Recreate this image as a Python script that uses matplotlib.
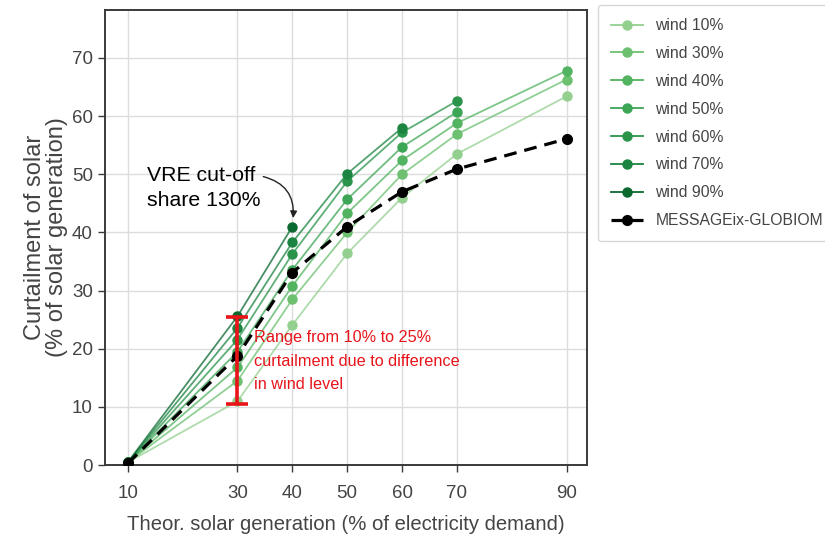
import numpy as np
import matplotlib
matplotlib.use("Agg")
from matplotlib import pyplot as plt

plt.rcParams['font.family'] = ['Liberation Sans', 'DejaVu Sans']

# solar generation levels (% of demand)
solar = [10, 30, 40, 50, 60, 70, 90]

# curtailment per wind level (series stop at the 130% VRE cut-off)
wind_labels = ['wind 10%', 'wind 30%', 'wind 40%', 'wind 50%', 'wind 60%', 'wind 70%', 'wind 90%']
wind10 = [0.5, 11.0, 24.1, 36.4, 46.0, 53.5, 63.4]
wind30 = [0.5, 14.5, 28.5, 40.0, 50.0, 56.9, 66.3]
wind40 = [0.5, 16.8, 30.8, 43.3, 52.4, 58.8, 67.8]
wind50 = [0.5, 19.5, 33.6, 45.7, 54.7, 60.7]
wind60 = [0.5, 21.6, 36.3, 48.8, 57.2, 62.6]
wind70 = [0.5, 23.6, 38.3, 50.1, 58.0]
wind90 = [0.5, 25.6, 41.0]
wind_series = [wind10, wind30, wind40, wind50, wind60, wind70, wind90]

# MESSAGEix-GLOBIOM reference
message = [0.3, 18.8, 33.1, 41.0, 47.0, 50.9, 56.1]

colors = ['#93d08f', '#6cc070', '#52b360', '#3da556', '#2a944b', '#1b8440', '#0b6930']

fig = plt.figure(figsize=(8.25, 5.39), dpi=100)
ax = fig.add_axes([0.127, 0.137, 0.585, 0.845])

for lab, vals, c in zip(wind_labels, wind_series, colors):
    xs = solar[:len(vals)]
    ax.plot(xs, vals, color=c, lw=1.3, alpha=0.75)
    ax.plot(xs, vals, color=c, lw=0, marker='o', ms=6.5, zorder=3)
    ax.plot([], [], color=c, lw=1.3, marker='o', ms=6.5, label=lab)

ax.plot(solar, message, color='black', ls='--', lw=2.3, marker='o', ms=7,
        dashes=(4, 2.5), zorder=4, label='MESSAGEix-GLOBIOM')

# red range bar at 30%
ax.errorbar([30], [18.0], yerr=[[7.5], [7.5]], fmt='none', ecolor='#e8141a',
            elinewidth=2.6, capsize=8, capthick=2.6, zorder=6)
ax.text(33.0, 23.2, 'Range from 10% to 25%\ncurtailment due to difference\nin wind level',
        color='#e8141a', fontsize=11.7, va='top', ha='left', linespacing=1.72)

ax.annotate('VRE cut-off\nshare 130%', xy=(40.1, 42.0), xytext=(13.5, 47.6),
            fontsize=15.3, color='black', ha='left', va='center', linespacing=1.4,
            arrowprops=dict(arrowstyle='-|>', color='#222222', lw=1,
                            connectionstyle='arc3,rad=-0.45',
                            shrinkA=0, shrinkB=2, mutation_scale=10,
                            relpos=(1.0, 0.78)))

ax.set_xlim(5.8, 93.8)
ax.set_ylim(0, 78.3)
ax.set_xticks(solar)
ax.set_yticks(np.arange(0, 71, 10))
ax.grid(True, color='#dcdcdc', lw=1)
ax.set_axisbelow(True)
for s in ax.spines.values():
    s.set_color('#3a3a3a')
    s.set_linewidth(1.4)
ax.tick_params(axis='both', colors='#3a3a3a', labelcolor='#444444', labelsize=13.5,
               length=5, width=1)
ax.tick_params(axis='x', pad=9)

ax.set_xlabel('Theor. solar generation (% of electricity demand)', fontsize=14.6,
              color='#444444', labelpad=10)
ax.set_ylabel('Curtailment of solar\n(% of solar generation)', fontsize=17,
              color='#444444', labelpad=3, linespacing=1.0)

leg = ax.legend(loc='upper left', bbox_to_anchor=(1.022, 1.011), borderaxespad=0,
                fontsize=11.3, frameon=True, edgecolor='#cccccc', fancybox=True,
                labelspacing=0.82, handlelength=2.0, handletextpad=0.8, borderpad=0.85)
for t in leg.get_texts():
    t.set_color('#444444')

fig.savefig('out.png', dpi=100)
